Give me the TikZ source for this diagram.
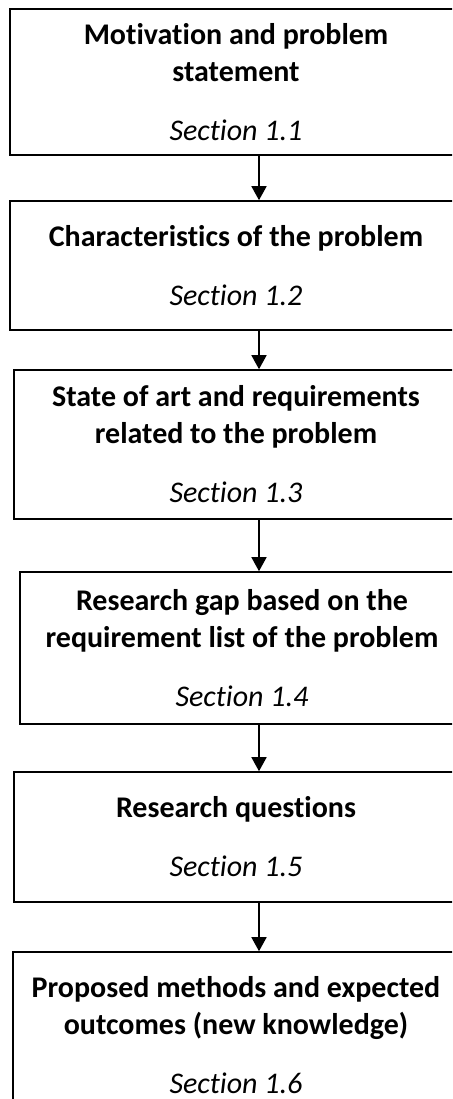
\documentclass[tikz,border=0pt]{standalone}
\usepackage{fontspec}
\setmainfont{Carlito}[Ligatures=NoCommon]
\usepackage{tikz}
\usetikzlibrary{arrows.meta}
\newcommand{\ChSec}[1]{\textit{Section 1.#1}}

\begin{document}
\begin{tikzpicture}[
    x=1pt,y=-1pt,
    stagebox/.style={draw=black,line width=1.6pt,align=center,inner sep=0pt,
      font=\fontsize{30}{37}\selectfont},
    flow/.style={-{Triangle[length=14pt,width=15pt]},line width=1.6pt,draw=black}
  ]
    \useasboundingbox (0,0) rectangle (452,1099);
    \clip (0,0) rectangle (452,1099);
    \coordinate (spine) at (259,0);

    \node[stagebox,minimum width=452,minimum height=146] (motiv) at (236,82)
      {\textbf{Motivation and problem}\\\textbf{statement}\\[22pt]\ChSec{1}};
    \node[stagebox,minimum width=452,minimum height=129] (charac) at (236,265.5)
      {\textbf{Characteristics of the problem}\\[22pt]\ChSec{2}};
    \node[stagebox,minimum width=444,minimum height=149] (soa) at (236,444.5)
      {\textbf{State of art and requirements}\\\textbf{related to the problem}\\[22pt]\ChSec{3}};
    \node[stagebox,minimum width=444,minimum height=152] (gap) at (242,648)
      {\textbf{Research gap based on the}\\\textbf{requirement list of the problem}\\[22pt]\ChSec{4}};
    \node[stagebox,minimum width=444,minimum height=130] (rq) at (236,837)
      {\textbf{Research questions}\\[22pt]\ChSec{5}};
    \node[stagebox,minimum width=446,minimum height=166] (methods) at (236,1035)
      {\textbf{Proposed methods and expected}\\\textbf{outcomes (new knowledge)}\\[22pt]\ChSec{6}};

    \draw[flow] (motiv.south -| spine) -- (charac.north -| spine);
    \draw[flow] (charac.south -| spine) -- (soa.north -| spine);
    \draw[flow] (soa.south -| spine) -- (gap.north -| spine);
    \draw[flow] (gap.south -| spine) -- (rq.north -| spine);
    \draw[flow] (rq.south -| spine) -- (methods.north -| spine);
\end{tikzpicture}
\end{document}
